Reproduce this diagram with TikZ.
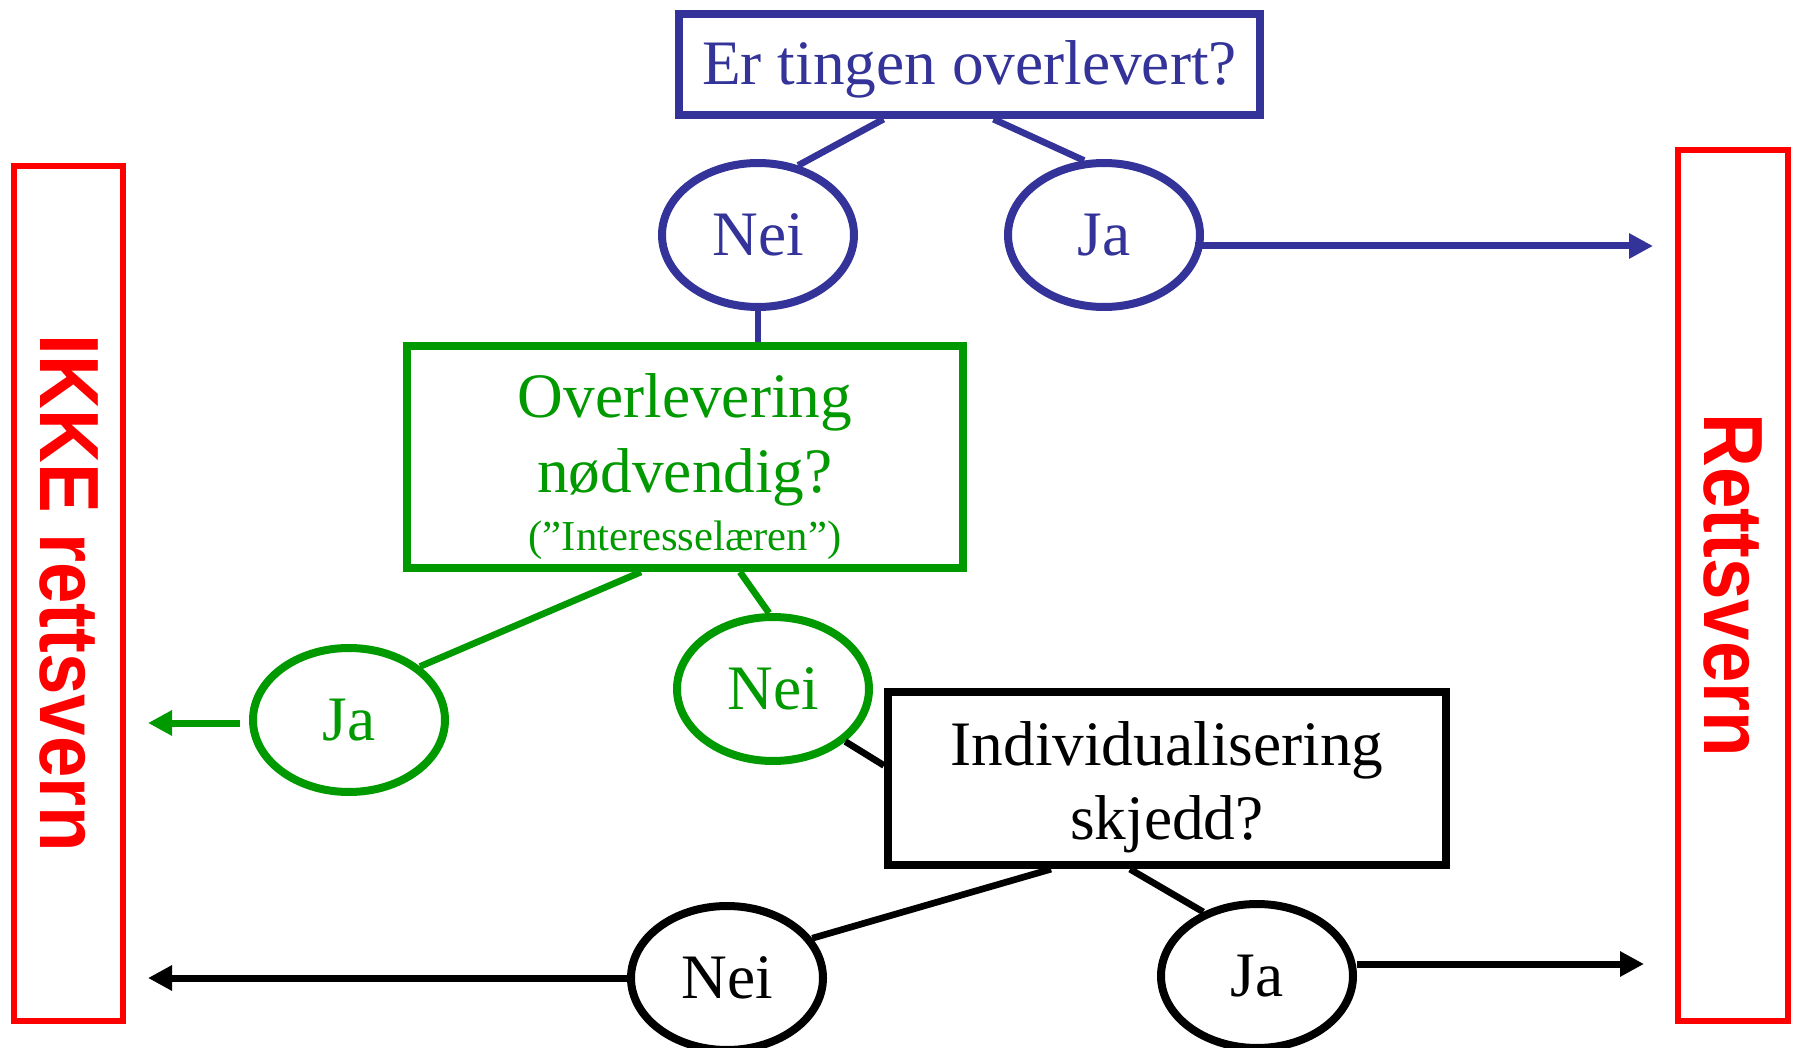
\documentclass[tikz,border=0pt]{standalone}
\usepackage{fontspec}
\setmainfont{Liberation Serif}
\newfontfamily\rvfont{Liberation Sans}
\usetikzlibrary{arrows.meta,calc,shapes.geometric}
\definecolor{qblue}{RGB}{51,51,153}
\definecolor{qgreen}{RGB}{0,153,0}

\begin{document}
\begin{tikzpicture}[x=0.75pt,y=0.75pt,yscale=-1,xscale=1,
    qbox/.style={draw,line width=6pt,inner sep=0pt,align=center,font=\fontsize{47.5}{56}\selectfont},
    svar/.style={draw,ellipse,line width=6pt,minimum width=144pt,minimum height=108pt,inner sep=0pt,font=\fontsize{47.5}{56}\selectfont},
    rvbox/.style={draw=red,text=red,line width=4.5pt,rotate=-90,inner sep=0pt,font=\rvfont\bfseries\fontsize{63}{70}\selectfont},
    kant/.style={line width=5pt},
    pil/.style={line width=5.25pt,-{Triangle[length=18pt,width=18pt]}}]
    %set diagram: 1800 x 1048
    \useasboundingbox (0,0) rectangle (1800,1048);
    
    %Shape: Rectangle [id:q1] 
    \node [qbox,draw=qblue,text=qblue,minimum width=436pt,minimum height=76pt,text depth=3.4pt] (q1) at (969.5,64.5) {Er tingen overlevert?};
    %Shape: Ellipse [id:nei1] 
    \node [svar,draw=qblue,text=qblue] (nei1) at (758,235) {Nei};
    %Shape: Ellipse [id:ja1] 
    \node [svar,draw=qblue,text=qblue] (ja1) at (1104,235) {Ja};
    %Shape: Rectangle [id:q2] 
    \node [qbox,draw=qgreen,text=qgreen,minimum width=417pt,minimum height=166.5pt,text depth=-10pt] (q2) at (685,457) {\rule{0pt}{41pt}Overlevering\\nødvendig?\\[-12pt]{\fontsize{32}{38}\selectfont (”Interesselæren”)}};
    %Shape: Ellipse [id:ja2] 
    \node [svar,draw=qgreen,text=qgreen] (ja2) at (349,720) {Ja};
    %Shape: Ellipse [id:nei2] 
    \node [svar,draw=qgreen,text=qgreen] (nei2) at (773,689) {Nei};
    %Shape: Rectangle [id:q3] 
    \node [qbox,minimum width=418.5pt,minimum height=130pt,text depth=-4pt] (q3) at (1167,778.5) {\rule{0pt}{36pt}Individualisering\\skjedd?};
    %Shape: Ellipse [id:nei3] 
    \node [svar] (nei3) at (727,978) {Nei};
    %Shape: Ellipse [id:ja3] 
    \node [svar] (ja3) at (1257,976) {Ja};
    %Shape: Rectangle [id:ikke] 
    \node [rvbox,minimum width=641pt,minimum height=82pt] (ikke) at (68.5,593.5) {\scalebox{0.886}[1]{IKKE rettsvern}};
    %Shape: Rectangle [id:rett] 
    \node [rvbox,minimum width=653pt,minimum height=82.5pt] (rett) at (1733,585.5) {\scalebox{0.886}[1]{Rettsvern}};
    
    %Straight Lines [id:blue] 
    \draw [kant,qblue] ($(q1.south)+(-86,0)$) -- (nei1.60) ;
    \draw [kant,qblue] ($(q1.south)+(24,0)$) -- (ja1.105) ;
    \draw [kant,qblue] (nei1.south) -- (nei1.south |- q2.north) ;
    %Straight Lines [id:green] 
    \draw [kant,qgreen] ($(q2.south)+(-44,0)$) -- (ja2.37) ;
    \draw [kant,qgreen] ($(q2.south)+(55,0)$) -- (nei2.93) ;
    %Straight Lines [id:black] 
    \draw [kant] (nei2.-36) -- ($(q3.west)+(0,-13)$) ;
    \draw [kant] ($(q3.south)+(-116,0)$) -- (nei3.25) ;
    \draw [kant] ($(q3.south)+(-37,0)$) -- (ja3.130) ;
    
    %Arrows [id:out] 
    \coordinate (tilRett1) at (1653,246);
    \coordinate (tilIkke1) at (148,723);
    \coordinate (tilIkke2) at (148,978);
    \coordinate (tilRett2) at (1644,964);
    \draw [pil,qblue] ($(ja1.east)+(-9,11)$) -- (tilRett1) ;
    \draw [pil,qgreen] ($(ja2.west)+(-9,3)$) -- (tilIkke1) ;
    \draw [pil] (nei3.west) -- (tilIkke2) ;
    \draw [pil] ($(ja3.east)+(0,-12)$) -- (tilRett2) ;
    
\end{tikzpicture}
\end{document}
